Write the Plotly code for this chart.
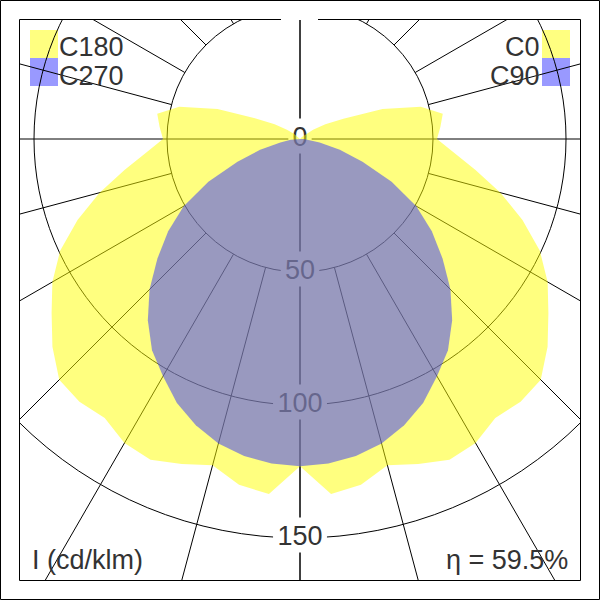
import numpy as np
import plotly.graph_objects as go

# ---- data (cd/klm) ----
gamma = list(range(0, 181, 5))  # angle from nadir, degrees
c0 = [123, 134, 132, 127, 130, 133, 132, 128, 129, 128, 121.5, 114, 107.5, 99.5, 89, 78,
      67, 58, 51.5, 53, 54.5, 47, 33, 18, 11, 6, 3, 1, 0, 0, 0, 0, 0, 0, 0, 0, 0]
c180 = [123, 134, 132, 127, 130, 133, 132, 128, 129, 128, 121.5, 114, 107.5, 99.5, 89, 78,
        67, 58, 51.5, 53, 54.5, 47, 33, 18, 11, 6, 3, 1, 0, 0, 0, 0, 0, 0, 0, 0, 0]
c90 = [123, 122.5, 121, 118.5, 114.5, 109.5, 103, 97, 89, 80, 70, 60.5, 50.5, 38, 25, 15.5,
       7.5, 3.5, 1.5, 0.5, 0, 0, 0, 0, 0, 0, 0, 0, 0, 0, 0, 0, 0, 0, 0, 0, 0]
c270 = [123, 122.5, 121, 118.5, 114.5, 109.5, 103, 97, 89, 80, 70, 60.5, 50.5, 38, 25, 15.5,
        7.5, 3.5, 1.5, 0.5, 0, 0, 0, 0, 0, 0, 0, 0, 0, 0, 0, 0, 0, 0, 0, 0, 0]
ring_values = [50, 100, 150]
ring_labels = ["0", "50", "100", "150"]
label_r = [0, 50, 100, 150]
spoke_angles = [15, 30, 45, 60, 75, 105, 120, 135, 150, 165]
eta_text = "η = 59.5%"
unit_text = "I (cd/klm)"

# ---- geometry / style ----
W = H = 600
PX = 2.66            # pixels per cd/klm
CX, CY = 300, 139    # pixel position of pole
F0, F1 = 19.5, 580.5  # inner frame (pixels)
FONT = "Liberation Sans, Arial, sans-serif"
TXT = "#333333"
YEL = "rgba(255,255,0,0.5)"
BLU = "rgba(51,51,255,0.5)"

def xr(px):
    return (px - CX) / PX

def yr(py):
    return (CY - py) / PX

def outline(right, left):
    g = np.radians(gamma)
    r1 = np.array(right, float)
    r2 = np.array(left, float)
    xs = np.concatenate([r1 * np.sin(g), (-r2 * np.sin(g))[::-1]])
    ys = np.concatenate([-r1 * np.cos(g), (-r2 * np.cos(g))[::-1]])
    return xs, ys

fig = go.Figure()

# labels on the vertical axis (beneath the fills)
fig.add_trace(go.Scatter(
    x=[0] * len(label_r), y=[-r for r in label_r], text=ring_labels,
    mode="text", textposition="middle center",
    textfont=dict(family=FONT, size=27, color=TXT), hoverinfo="skip", showlegend=False))

xs, ys = outline(c0, c180)
fig.add_trace(go.Scatter(x=xs, y=ys, mode="lines", fill="toself", fillcolor=YEL,
                         line=dict(width=0, color=YEL), hoverinfo="skip", showlegend=False))
xs, ys = outline(c90, c270)
fig.add_trace(go.Scatter(x=xs, y=ys, mode="lines", fill="toself", fillcolor=BLU,
                         line=dict(width=0, color=BLU), hoverinfo="skip", showlegend=False))

shapes = []
# legend swatches (below grid)
shapes.append(dict(type="rect", xref="paper", yref="paper", layer="below",
                   x0=30 / W, x1=58 / W, y0=1 - 58 / H, y1=1 - 30 / H,
                   fillcolor="#FFFF80", line=dict(width=0)))
shapes.append(dict(type="rect", xref="paper", yref="paper", layer="below",
                   x0=30 / W, x1=58 / W, y0=1 - 86 / H, y1=1 - 58 / H,
                   fillcolor="#9999FF", line=dict(width=0)))
shapes.append(dict(type="rect", xref="paper", yref="paper", layer="below",
                   x0=542 / W, x1=570 / W, y0=1 - 58 / H, y1=1 - 30 / H,
                   fillcolor="#FFFF80", line=dict(width=0)))
shapes.append(dict(type="rect", xref="paper", yref="paper", layer="below",
                   x0=542 / W, x1=570 / W, y0=1 - 86 / H, y1=1 - 58 / H,
                   fillcolor="#9999FF", line=dict(width=0)))
# rings
for r in ring_values:
    shapes.append(dict(type="circle", xref="x", yref="y", layer="below",
                       x0=-r, x1=r, y0=-r, y1=r, line=dict(color="black", width=1)))
# spokes (from ring 50 outwards)
for a in spoke_angles:
    t = np.radians(a)
    for sgn in (1, -1):
        shapes.append(dict(type="line", xref="x", yref="y", layer="below",
                           x0=sgn * 50 * np.sin(t), y0=-50 * np.cos(t),
                           x1=sgn * 400 * np.sin(t), y1=-400 * np.cos(t),
                           line=dict(color="black", width=1)))
# axes through pole
shapes.append(dict(type="line", xref="x", yref="y", layer="below",
                   x0=-300, x1=300, y0=0, y1=0, line=dict(color="black", width=1)))
shapes.append(dict(type="line", xref="x", yref="y", layer="below",
                   x0=0, x1=0, y0=-300, y1=yr(20), line=dict(color="black", width=1.5)))
# white boxes behind the ring labels
for lab, r in zip(ring_labels, label_r):
    hw = (len(lab) * 15.3 / 2 + 4) / PX
    shapes.append(dict(type="rect", xref="x", yref="y", layer="below",
                       x0=-hw, x1=hw, y0=-r - 14.5 / PX, y1=-r + 20.5 / PX,
                       fillcolor="white", line=dict(width=0)))
# frames
fr = dict(type="line", xref="paper", yref="paper", layer="above",
          line=dict(color="black", width=1))
shapes.append({**fr, "x0": F0 / W, "x1": 281 / W, "y0": 1 - F0 / H, "y1": 1 - F0 / H})
shapes.append({**fr, "x0": 318 / W, "x1": F1 / W, "y0": 1 - F0 / H, "y1": 1 - F0 / H})
shapes.append({**fr, "x0": F0 / W, "x1": F1 / W, "y0": 1 - F1 / H, "y1": 1 - F1 / H})
shapes.append({**fr, "x0": F0 / W, "x1": F0 / W, "y0": 1 - F0 / H, "y1": 1 - F1 / H})
shapes.append({**fr, "x0": F1 / W, "x1": F1 / W, "y0": 1 - F0 / H, "y1": 1 - F1 / H})
shapes.append(dict(type="rect", xref="paper", yref="paper", layer="above",
                   x0=0.5 / W, x1=599.5 / W, y0=0.5 / H, y1=599.5 / H,
                   line=dict(color="black", width=1)))

tf = dict(family=FONT, size=27, color=TXT)
ann = []
ann.append(dict(text="C180", x=58 / W, y=1 - 47 / H, xanchor="left", yanchor="middle"))
ann.append(dict(text="C270", x=58 / W, y=1 - 76 / H, xanchor="left", yanchor="middle"))
ann.append(dict(text="C0", x=541 / W, y=1 - 47 / H, xanchor="right", yanchor="middle"))
ann.append(dict(text="C90", x=541 / W, y=1 - 76 / H, xanchor="right", yanchor="middle"))
ann.append(dict(text=unit_text, x=31 / W, y=1 - 560 / H, xanchor="left", yanchor="middle"))
ann.append(dict(text=eta_text, x=569 / W, y=1 - 560 / H, xanchor="right", yanchor="middle"))
for a in ann:
    a.update(xref="paper", yref="paper", showarrow=False, font=tf, borderpad=0)

fig.update_layout(
    width=W, height=H, margin=dict(l=0, r=0, t=0, b=0),
    paper_bgcolor="white", plot_bgcolor="white",
    shapes=shapes, annotations=ann, showlegend=False,
    xaxis=dict(domain=[F0 / W, F1 / W], range=[xr(F0), xr(F1)], visible=False,
               showgrid=False, zeroline=False, fixedrange=True),
    yaxis=dict(domain=[1 - F1 / H, 1 - F0 / H], range=[yr(F1), yr(F0)], visible=False,
               showgrid=False, zeroline=False, fixedrange=True),
)
fig.write_html("out.html")
